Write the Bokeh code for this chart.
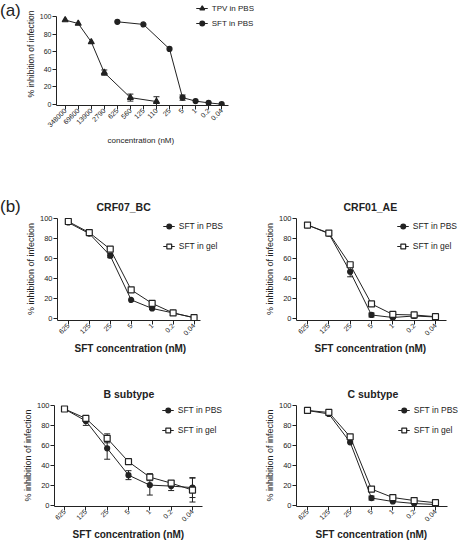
import math
from bokeh.plotting import figure
from bokeh.models import (Range1d, Legend, LegendItem, Whisker, Title, Div,
                          TeeHead, ColumnDataSource, FixedTicker)
from bokeh.layouts import column, row
from bokeh.embed import file_html
from bokeh.resources import INLINE

# ---------------- data ----------------
conc_a = ["348000", "69600", "13900", "2790", "625", "560", "125", "110",
          "25", "5", "1", "0.2", "0.04"]
tpv_conc = ["348000", "69600", "13900", "2790", "560", "110"]
tpv_inh = [96, 92, 71, 36, 7.5, 3]
tpv_err = [0, 0, 0, 3, 4, 5.5]
sft_a_conc = ["625", "125", "25", "5", "1", "0.2", "0.04"]
sft_a_inh = [94, 91, 63, 7.5, 3.5, 1.5, 0]
sft_a_err = [0, 0, 0, 3, 0, 0, 0]

conc_b = ["625", "125", "25", "5", "1", "0.2", "0.04"]
bc_pbs = [96, 85, 63, 19, 10.5, 6, 1.3]
bc_pbs_err = [0, 0, 2, 0, 1, 0, 0]
bc_gel = [97, 86, 69.5, 29, 15.5, 6, 1.3]
bc_gel_err = [0, 0, 0, 0, 0, 0, 0]

ae_pbs = [93.5, 85, 47, 4, 1.5, 3, 2]
ae_pbs_err = [0, 0, 5, 2, 1, 2, 0]
ae_gel = [93.5, 85.5, 54, 15, 4.5, 4, 2.3]
ae_gel_err = [0, 0, 2, 0, 0, 0, 0]

b_pbs = [96.5, 84.5, 57, 30, 20, 19, 17.5]
b_pbs_err = [0, 4.5, 11, 4.5, 10, 4.5, 10]
b_gel = [96.5, 87, 67, 43.5, 28, 22, 15]
b_gel_err = [0, 1.5, 4.5, 2, 3.5, 2.5, 12]

c_pbs = [95, 91.5, 63, 7, 3.5, 1.5, 0.5]
c_pbs_err = [0, 0, 0, 2, 0, 0, 0]
c_gel = [95, 93, 68.5, 16, 7.5, 4.5, 2.3]
c_gel_err = [0, 0, 0, 0, 0, 0, 0]

y_ticks = [0, 20, 40, 60, 80, 100]

FONT = "Liberation Sans"
INK = "#222222"


def xr(frame_l, frame_r, tick0, step, axis_end):
    """x range (in category-index units) from pixel layout targets"""
    return ((frame_l - tick0) / step, (frame_r - tick0) / step, (axis_end - tick0) / step)


def style(p, cats, xbounds, xtick_fs, ytick_fs, ylab_fs):
    p.xgrid.visible = False
    p.ygrid.visible = False
    p.outline_line_color = None
    p.background_fill_color = "white"
    p.border_fill_color = "white"
    p.yaxis.ticker = FixedTicker(ticks=y_ticks)
    p.xaxis.ticker = FixedTicker(ticks=list(range(len(cats))))
    p.xaxis.major_label_overrides = {i: c for i, c in enumerate(cats)}
    p.xaxis.bounds = xbounds
    p.yaxis.bounds = (p.y_range.start, 100)
    for ax in p.xaxis + p.yaxis:
        ax.axis_line_color = INK
        ax.major_tick_line_color = INK
        ax.minor_tick_line_color = None
        ax.major_tick_out = 4
        ax.major_tick_in = 0
        ax.major_label_text_font = FONT
        ax.major_label_text_color = INK
        ax.axis_label_text_font = FONT
        ax.axis_label_text_color = INK
    p.xaxis.major_label_text_font_size = xtick_fs
    p.yaxis.major_label_text_font_size = ytick_fs
    p.yaxis.axis_label = "% inhibition of infection"
    p.yaxis.axis_label_text_font_size = ylab_fs
    p.yaxis.axis_label_text_font_style = "normal"
    p.yaxis.major_label_standoff = 1
    p.yaxis.axis_label_standoff = 1
    p.xaxis.major_label_orientation = math.pi / 4
    p.xaxis.major_label_standoff = 0


def series(p, cats, xs, ys, errs, marker, size, fill):
    xi = [cats.index(c) for c in xs]
    src = ColumnDataSource(dict(x=xi, y=ys))
    ln = p.line("x", "y", source=src, line_color=INK, line_width=1)
    ex = [x for x, e in zip(xi, errs) if e > 0]
    ey = [y for y, e in zip(ys, errs) if e > 0]
    ee = [e for e in errs if e > 0]
    if ex:
        esrc = ColumnDataSource(dict(x=ex, up=[a + b for a, b in zip(ey, ee)],
                                     lo=[a - b for a, b in zip(ey, ee)]))
        w = Whisker(source=esrc, base="x", upper="up", lower="lo", dimension="height",
                    line_color=INK, line_width=1,
                    upper_head=TeeHead(size=6, line_color=INK, line_width=1),
                    lower_head=TeeHead(size=6, line_color=INK, line_width=1))
        p.add_layout(w)
    sc = p.scatter("x", "y", source=src, marker=marker, size=size,
                   fill_color=fill, line_color=INK, line_width=1.2)
    return [ln, sc]


def mk_legend(items, fs, spacing, margin):
    return Legend(items=items, location="top_right", padding=0, margin=margin,
                  spacing=spacing, glyph_width=12, glyph_height=12, label_height=12,
                  label_standoff=4, label_text_font=FONT, label_text_font_size=fs,
                  label_text_color=INK, border_line_color=None, background_fill_alpha=0)


def tag(text, height, top):
    return Div(text='<div style="margin-top:%dpx">%s</div>' % (top, text),
               width=22, height=height, margin=(0, 0, 0, 0),
               styles={"font-family": FONT, "font-size": "17px", "color": INK,
                       "line-height": "20px", "overflow": "hidden"})


# ---------------- panel (a) ----------------
xa0, xa1, xab = xr(57, 262, 66, 13.5, 235)
pa = figure(width=438, height=146, x_range=Range1d(xa0, xa1),
            y_range=Range1d(-1.5, 116),
            output_backend="svg", toolbar_location=None,
            min_border_left=27, min_border_right=206,
            min_border_top=2, min_border_bottom=40)
style(pa, conc_a, (xa0, xab), "7px", "7px", "8.5px")
pa.add_layout(Title(text="concentration (nM)", align="left", offset=51, standoff=3,
                    text_font=FONT, text_font_size="8px", text_font_style="normal",
                    text_color=INK), "below")
r_tpv = series(pa, conc_a, tpv_conc, tpv_inh, tpv_err, "triangle", 6, INK)
r_sfta = series(pa, conc_a, sft_a_conc, sft_a_inh, sft_a_err, "circle", 5, INK)
pa.add_layout(mk_legend([LegendItem(label="TPV in PBS", renderers=r_tpv),
                         LegendItem(label="SFT in PBS", renderers=r_sfta)],
                        "8px", 3, 0))
tag_a = tag("(a)", 146, 1)


# ---------------- panel (b) ----------------
def make_b(title, toff, pbs, pbs_err, gel, gel_err, width, height, bl, br, bt, bb,
           xl, xrr, tick0, axis_end, xoff, lmargin):
    x0, x1, xb = xr(xl, xrr, tick0, 21.33, axis_end)
    p = figure(width=width, height=height, x_range=Range1d(x0, x1),
               y_range=Range1d(-1.5, 101),
               output_backend="svg", toolbar_location=None,
               min_border_left=bl, min_border_right=br,
               min_border_top=bt, min_border_bottom=bb)
    style(p, conc_b, (x0, xb), "7px", "7.5px", "9px")
    p.title = Title(text=title, align="left", offset=toff, standoff=10,
                    text_font=FONT, text_font_size="10.5px", text_font_style="bold",
                    text_color=INK)
    p.add_layout(Title(text="SFT concentration (nM)", align="left", offset=xoff,
                       standoff=0, text_font=FONT, text_font_size="10px",
                       text_font_style="bold", text_color=INK), "below")
    r1 = series(p, conc_b, conc_b, pbs, pbs_err, "circle", 5, INK)
    r2 = series(p, conc_b, conc_b, gel, gel_err, "square", 6, "white")
    p.add_layout(mk_legend([LegendItem(label="SFT in PBS", renderers=r1),
                            LegendItem(label="SFT in gel", renderers=r2)],
                           "8.5px", 8, lmargin))
    return p


b1 = make_b("CRF07_BC", 39, bc_pbs, bc_pbs_err, bc_gel, bc_gel_err,
            206, 209, 31, 2, 71, 35, 61, 233, 72, 207, 17, 3)
b2 = make_b("CRF01_AE", 47, ae_pbs, ae_pbs_err, ae_gel, ae_gel_err,
            232, 209, 68, 0, 71, 35, 304, 468, 315, 454, 18, 3)
b3 = make_b("B subtype", 49, b_pbs, b_pbs_err, b_gel, b_gel_err,
            228, 185, 54, 6, 49, 34, 62, 230, 72, 210, 18, 0)
b4 = make_b("C subtype", 51, c_pbs, c_pbs_err, c_gel, c_gel_err,
            232, 185, 68, 2, 49, 34, 304, 466, 315, 455, 19, 0)
tag_b = tag("(b)", 209, 51)

layout = column(row(tag_a, pa), row(tag_b, b1, b2), row(b3, b4))
open("out.html", "w").write(file_html(layout, INLINE))
